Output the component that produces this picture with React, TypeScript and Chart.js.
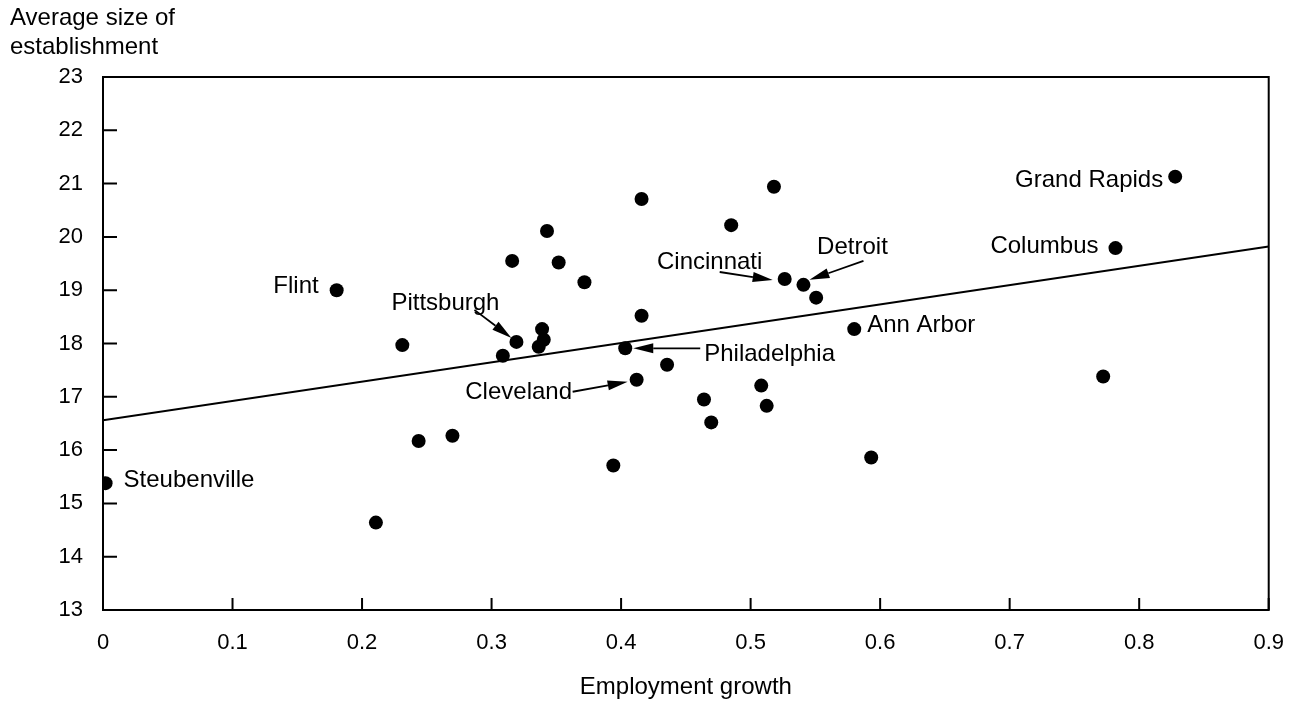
import React, { useEffect, useRef } from 'react';
import { Chart, registerables } from 'chart.js';

Chart.register(...registerables);

// ---- data ----
const employmentGrowth = [
  0.002, 0.2107, 0.1804, 0.2311, 0.2437, 0.2698, 0.3087, 0.3192, 0.3159, 0.3364,
  0.3403, 0.339, 0.3428, 0.3518, 0.3717, 0.394, 0.4032, 0.412, 0.4158, 0.4158,
  0.4355, 0.464, 0.4696, 0.485, 0.5082, 0.5124, 0.518, 0.5263, 0.5408, 0.5506,
  0.58, 0.5931, 0.7722, 0.7817, 0.8278,
];
const avgEstablishmentSize = [
  15.38, 14.64, 19.0, 17.97, 16.17, 16.27, 17.77, 18.03, 19.55, 17.94,
  18.07, 18.27, 20.11, 19.52, 19.15, 15.71, 17.91, 17.32, 18.52, 20.71,
  17.6, 16.95, 16.52, 20.22, 17.21, 16.83, 20.94, 19.21, 19.1, 18.86,
  18.27, 15.86, 17.38, 19.79, 21.13,
];
const cityNames = [
  'Steubenville', '', 'Flint', '', '', '', '', 'Pittsburgh', '', '',
  '', '', '', '', '', '', 'Philadelphia', 'Cleveland', '', '',
  '', '', '', '', '', '', '', 'Cincinnati', 'Detroit', '',
  'Ann Arbor', '', '', 'Columbus', 'Grand Rapids',
];
const trendX = [0, 0.9];
const trendY = [16.56, 19.82];
const xTickLabels = ['0', '0.1', '0.2', '0.3', '0.4', '0.5', '0.6', '0.7', '0.8', '0.9'];
const yTickLabels = ['13', '14', '15', '16', '17', '18', '19', '20', '21', '22', '23'];
const yTitleLines = ['Average size of', 'establishment'];
const xTitle = 'Employment growth';

// ---- label placement (pixel offsets from the labelled point) ----
type LabelPos = { dx: number; dy: number; align: CanvasTextAlign; arrow?: [number, number, number, number] };
const labelLayout: Record<string, LabelPos> = {
  Steubenville: { dx: 18, dy: -3, align: 'left' },
  Flint: { dx: -18, dy: -4, align: 'right' },
  Pittsburgh: { dx: -71, dy: -39, align: 'center', arrow: [-42, -32, -5, -4] },
  Cleveland: { dx: -118, dy: 13, align: 'center', arrow: [-64, 12, -9, 2] },
  Philadelphia: { dx: 79, dy: 6, align: 'left', arrow: [75, 0, 8, 0] },
  Cincinnati: { dx: -75, dy: -17, align: 'center', arrow: [-65, -7, -12, 1] },
  Detroit: { dx: 49, dy: -37, align: 'center', arrow: [60, -24, 6, -5] },
  'Ann Arbor': { dx: 13, dy: -4, align: 'left' },
  Columbus: { dx: -17, dy: -2, align: 'right' },
  'Grand Rapids': { dx: -12, dy: 4, align: 'right' },
};

const FONT = '"Liberation Sans", Arial, Helvetica, sans-serif';

function drawArrow(ctx: CanvasRenderingContext2D, x1: number, y1: number, x2: number, y2: number) {
  const ang = Math.atan2(y2 - y1, x2 - x1);
  const headLen = 20;
  const headHalf = 5;
  const bx = x2 - headLen * Math.cos(ang);
  const by = y2 - headLen * Math.sin(ang);
  ctx.beginPath();
  ctx.moveTo(x1, y1);
  ctx.lineTo(bx, by);
  ctx.lineWidth = 1.8;
  ctx.strokeStyle = '#000';
  ctx.stroke();
  ctx.beginPath();
  ctx.moveTo(x2, y2);
  ctx.lineTo(bx + headHalf * Math.sin(ang), by - headHalf * Math.cos(ang));
  ctx.lineTo(bx - headHalf * Math.sin(ang), by + headHalf * Math.cos(ang));
  ctx.closePath();
  ctx.fillStyle = '#000';
  ctx.fill();
}

const framePlugin = {
  id: 'frameAndLabels',
  afterDatasetsDraw(chart: any) {
    const { ctx, chartArea, scales } = chart;
    const xs = scales.x;
    const ys = scales.y;
    ctx.save();
    // frame
    ctx.strokeStyle = '#000';
    ctx.lineWidth = 2;
    ctx.strokeRect(chartArea.left, chartArea.top, chartArea.right - chartArea.left, chartArea.bottom - chartArea.top);
    // inward ticks
    ctx.beginPath();
    yTickLabels.forEach((t) => {
      const y = ys.getPixelForValue(Number(t));
      ctx.moveTo(chartArea.left, y);
      ctx.lineTo(chartArea.left + 14, y);
    });
    xTickLabels.forEach((t) => {
      const x = xs.getPixelForValue(Number(t));
      ctx.moveTo(x, chartArea.bottom);
      ctx.lineTo(x, chartArea.bottom - 12);
    });
    ctx.stroke();

    // y title
    ctx.fillStyle = '#000';
    ctx.font = `24px ${FONT}`;
    ctx.textAlign = 'left';
    ctx.textBaseline = 'middle';
    yTitleLines.forEach((line, i) => ctx.fillText(line, 10, 18 + i * 29));

    // city labels
    cityNames.forEach((name, i) => {
      if (!name) return;
      const pos = labelLayout[name];
      if (!pos) return;
      const px = xs.getPixelForValue(employmentGrowth[i]);
      const py = ys.getPixelForValue(avgEstablishmentSize[i]);
      ctx.textAlign = pos.align;
      ctx.textBaseline = 'middle';
      ctx.fillStyle = '#000';
      ctx.fillText(name, px + pos.dx, py + pos.dy);
      if (pos.arrow) {
        const [ax1, ay1, ax2, ay2] = pos.arrow;
        drawArrow(ctx, px + ax1, py + ay1, px + ax2, py + ay2);
      }
    });
    ctx.restore();
  },
};

export default function App() {
  const canvasRef = useRef<HTMLCanvasElement | null>(null);

  useEffect(() => {
    if (!canvasRef.current) return;
    const points = employmentGrowth.map((x, i) => ({ x, y: avgEstablishmentSize[i] }));
    const trend = trendX.map((x, i) => ({ x, y: trendY[i] }));
    const chart = new Chart(canvasRef.current, {
      type: 'scatter',
      data: {
        datasets: [
          {
            label: 'Trend',
            data: trend,
            showLine: true,
            borderColor: '#000',
            borderWidth: 2,
            pointRadius: 0,
            fill: false,
          } as any,
          {
            label: 'Metro areas',
            data: points,
            backgroundColor: '#000',
            borderColor: '#000',
            pointRadius: 7,
            pointBorderWidth: 0,
            pointHoverRadius: 7,
          },
        ],
      },
      options: {
        animation: false,
        responsive: false,
        devicePixelRatio: 1,
        events: [],
        layout: { padding: { left: 0, right: 31, top: 77, bottom: 0 } },
        plugins: {
          legend: { display: false },
          tooltip: { enabled: false },
          title: { display: false },
        },
        scales: {
          x: {
            type: 'linear',
            min: 0,
            max: 0.9,
            grid: { display: false, drawTicks: false },
            border: { display: false },
            ticks: {
              stepSize: 0.1,
              autoSkip: false,
              maxRotation: 0,
              padding: 20,
              color: '#000',
              font: { family: FONT, size: 22 },
              callback: (_v: any, idx: number) => xTickLabels[idx],
            },
            title: {
              display: true,
              text: xTitle,
              color: '#000',
              font: { family: FONT, size: 24 },
              padding: { top: 0, bottom: 0 },
            },
            afterFit: (scale: any) => {
              scale.height = 92;
            },
          },
          y: {
            type: 'linear',
            min: 13,
            max: 23,
            grid: { display: false, drawTicks: false },
            border: { display: false },
            ticks: {
              stepSize: 1,
              autoSkip: false,
              padding: 20,
              color: '#000',
              font: { family: FONT, size: 22 },
              callback: (_v: any, idx: number) => yTickLabels[idx],
            },
            afterFit: (scale: any) => {
              scale.width = 103;
            },
          },
        },
      },
      plugins: [framePlugin],
    });
    return () => chart.destroy();
  }, []);

  return (
    <div style={{ position: 'absolute', left: 0, top: 0, width: 1304, height: 702, background: '#fff' }}>
      <canvas ref={canvasRef} width={1304} height={702} style={{ display: 'block' }} />
    </div>
  );
}
